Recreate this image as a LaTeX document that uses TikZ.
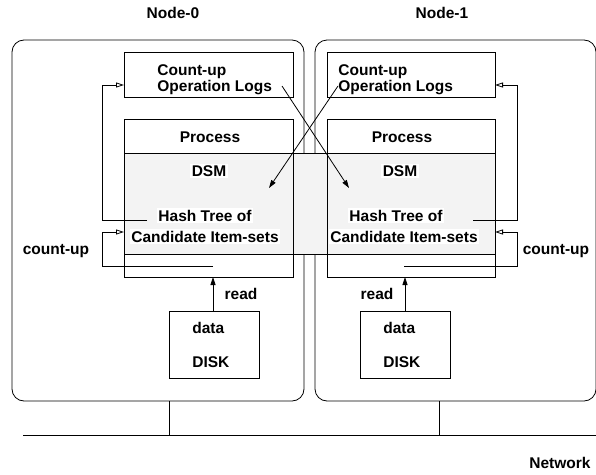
\documentclass[tikz,border=0pt]{standalone}
\usepackage{fontspec}
\setmainfont{Liberation Sans}
\usetikzlibrary{arrows.meta,calc}
\definecolor{dsmgray}{RGB}{243,243,243}
\tikzset{
  plainbox/.style={draw, anchor=north west, inner sep=0pt, outer sep=0pt},
  nodebox/.style={plainbox, rounded corners=12pt},
  lbl/.style={anchor=base, inner sep=0pt},
  lblw/.style={anchor=base west, inner sep=0pt, align=left},
  wlbl/.style={anchor=base, fill=white, inner sep=1.5pt},
  openarr/.style={-{Triangle[open,length=8pt,width=5pt]}},
  fillarr/.style={-{Triangle[length=8pt,width=5pt]}},
}
\begin{document}
\begin{tikzpicture}[x=1pt,y=-1pt,line width=0.8pt,
  font=\bfseries\fontsize{15.5}{16}\selectfont]
\useasboundingbox (0,0) rectangle (596,474);
% titles
\node[lbl] (t0) at (173,18) {Node-0};
\node[lbl] (t1) at (442,18) {Node-1};
% node frames
\node[nodebox, minimum width=292pt, minimum height=361pt] (n0) at (12,40) {};
\node[nodebox, minimum width=281pt, minimum height=361pt] (n1) at (315,40) {};
% DSM shared region
\node[plainbox, fill=dsmgray, minimum width=371pt, minimum height=101pt] (dsm) at (124,153) {};
% logs boxes
\node[plainbox, minimum width=169pt, minimum height=45pt] (logs0) at (124,52) {};
\node[plainbox, minimum width=168pt, minimum height=45pt] (logs1) at (327,52) {};
% process boxes
\node[plainbox, minimum width=169pt, minimum height=158pt] (proc0) at (124,119) {};
\node[plainbox, minimum width=168pt, minimum height=158pt] (proc1) at (327,119) {};
% disks
\node[plainbox, minimum width=90pt, minimum height=67pt] (disk0) at (169,311) {};
\node[plainbox, minimum width=90pt, minimum height=67pt] (disk1) at (360,311) {};
% texts
\node[lblw] (logs0t) at (157,91) {Count-up\\Operation Logs};
\node[lblw] (logs1t) at (338,91) {Count-up\\Operation Logs};
\node[lbl] (p0) at (210,142) {Process};
\node[lbl] (p1) at (402,142) {Process};
\node[wlbl] (d0) at (209,176) {DSM};
\node[wlbl] (d1) at (400,176) {DSM};
\node[wlbl] (h0) at (205,221) {Hash Tree of};
\node[wlbl] (h1) at (396,221) {Hash Tree of};
\node[wlbl] (c0) at (205,242) {Candidate Item-sets};
\node[wlbl] (c1) at (404,242) {Candidate Item-sets};
\node[lbl] (cu0) at (56,254) {count-up};
\node[lbl] (cu1) at (556,254) {count-up};
\node[lbl] (r0) at (241,299) {read};
\node[lbl] (r1) at (377,299) {read};
\node[lblw] (dt0) at (192,333) {data};
\node[lblw] (dt1) at (383,333) {data};
\node[lblw] (dk0) at (192,367) {DISK};
\node[lblw] (dk1) at (383,367) {DISK};
\node[lbl] (net) at (560,468) {Network};
% free ends
\coordinate (hs0) at (147,220);
\coordinate (hs1) at (473,220);
\coordinate (cs0) at (213,266);
\coordinate (cs1) at (404,266);
\coordinate (xa) at (282,86);
\coordinate (xae) at (349,188);
\coordinate (xb) at (338,86);
\coordinate (xbe) at (269,188);
\coordinate (netL) at (23,435);
\coordinate (netR) at (596,435);
% feedback loops
\draw[openarr] (hs0) -- (102,220) |- ([yshift=-10.5pt]logs0.west);
\draw[openarr] (cs0) -- (102,266) |- ([yshift=-34pt]proc0.west);
\draw[openarr] (hs1) -- (517,220) |- ([yshift=-10.5pt]logs1.east);
\draw[openarr] (cs1) -- (517,266) |- ([yshift=-34pt]proc1.east);
% crossing arrows
\draw[fillarr] (xa) -- (xae);
\draw[fillarr] (xb) -- (xbe);
% read arrows
\draw[fillarr] (disk0.north -| cs0) -- (proc0.south -| cs0);
\draw[fillarr] (disk1.north) -- (proc1.south -| disk1.north);
% network
\draw (netL) -- (netR);
\draw (n0.south -| disk0.west) -- (netL -| disk0.west);
\draw ([xshift=-16.5pt]n1.south) -- ([xshift=-16.5pt]n1.south |- netL);
\end{tikzpicture}
\end{document}
